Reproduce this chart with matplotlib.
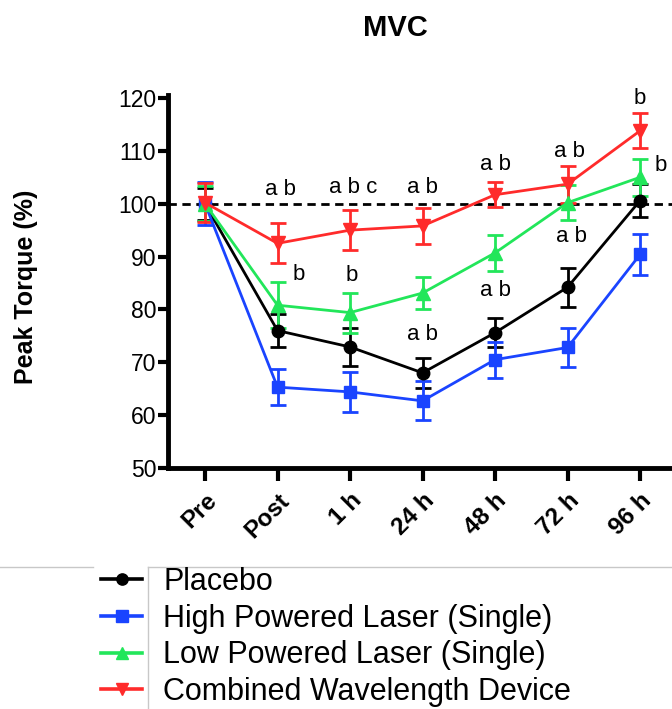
import matplotlib
matplotlib.use("Agg")
import matplotlib.pyplot as plt
from matplotlib.lines import Line2D

plt.rcParams['font.family'] = ['Liberation Sans', 'DejaVu Sans']

# ---- data ----
timepoints = ["Pre", "Post", "1 h", "24 h", "48 h", "72 h", "96 h"]
placebo = [100.0, 76.0, 72.9, 68.0, 75.6, 84.2, 100.6]
placebo_err = [3.0, 3.2, 3.6, 2.8, 2.7, 3.7, 3.1]
high_laser = [100.0, 65.3, 64.4, 62.7, 70.5, 72.8, 90.4]
high_laser_err = [4.1, 3.4, 3.8, 3.7, 3.4, 3.7, 3.9]
low_laser = [100.0, 80.8, 79.4, 83.1, 90.7, 100.2, 105.0]
low_laser_err = [3.3, 4.4, 3.8, 3.1, 3.4, 3.3, 3.5]
combined = [100.2, 92.5, 95.0, 95.8, 101.7, 103.7, 113.8]
combined_err = [3.7, 3.8, 3.8, 3.4, 2.4, 3.5, 3.3]

series_names = ["Placebo", "High Powered Laser (Single)",
                "Low Powered Laser (Single)", "Combined Wavelength Device"]

# significance annotations: (x position, y position, text)
annot_x = [1.04, 2.04, 3.0, 4.0, 5.03, 5.99, 6.29, 1.29, 2.02, 5.05, 4.0, 3.0]
annot_y = [101.7, 102.0, 102.1, 106.4, 108.9, 118.9, 106.2, 85.6, 85.3, 92.7, 82.6, 74.3]
annot_txt = ["a b", "a b c", "a b", "a b", "a b", "b", "b", "b", "b", "a b", "a b", "a b"]

W, H = 672, 709
fig = plt.figure(figsize=(W / 100, H / 100), dpi=100)
ax = fig.add_axes([168 / W, 1 - 468 / H, (W - 168) / W, (468 - 98) / H])

x = list(range(len(timepoints)))
colors = ["#000000", "#1a44ff", "#22e65a", "#ff2b2b"]
markers = ["o", "s", "^", "v"]
msizes = [9, 9, 9.5, 9.5]
data = [placebo, high_laser, low_laser, combined]
errs = [placebo_err, high_laser_err, low_laser_err, combined_err]

ax.axhline(100, color="black", lw=2.0, ls=(0, (3, 2)), zorder=1)

handles = []
for vals, err, c, m, ms, name in zip(data, errs, colors, markers, msizes, series_names):
    ax.errorbar(x, vals, yerr=err, color=c, marker=m, ms=ms, mec=c, mfc=c,
                lw=2.0, elinewidth=2.0, capsize=5.5, capthick=2.0, zorder=3,
                clip_on=False)
    handles.append(Line2D([0], [0], color=c, marker=m, ms=ms * 0.9, lw=2.6, label=name))

for tx, ty, t in zip(annot_x, annot_y, annot_txt):
    ax.text(tx, ty, t, ha="center", va="baseline", fontsize=16, zorder=5)

ax.set_xlim(-0.51, 6.44)
ax.set_ylim(50, 120)
ax.set_yticks([50, 60, 70, 80, 90, 100, 110, 120])
ax.set_xticks(x)
ax.set_xticklabels(timepoints, rotation=45, ha="right", rotation_mode="anchor",
                   fontsize=17.5, fontweight="bold")
for lbl in ax.get_yticklabels():
    lbl.set_fontsize(16.5)

ax.spines["top"].set_visible(False)
ax.spines["right"].set_visible(False)
ax.spines["left"].set_linewidth(3.5)
ax.spines["bottom"].set_linewidth(3.5)
ax.spines["left"].set_bounds(50, 120.6)
ax.tick_params(axis="y", length=7, width=3, pad=1.5)
ax.tick_params(axis="x", length=9, width=3, pad=6)

fig.text(395 / W, 1 - 28 / H, "MVC", ha="center", va="center",
         fontsize=21, fontweight="bold")
fig.text(26 / W, 1 - 287 / H, "Peak Torque (%)", ha="center", va="center",
         rotation=90, fontsize=18, fontweight="bold")

# faint separator lines
gray = "#c8c8c8"
fig.add_artist(Line2D([0, 93 / W], [1 - 567 / H] * 2, color=gray, lw=1))
fig.add_artist(Line2D([148 / W, 1], [1 - 567 / H] * 2, color=gray, lw=1))
fig.add_artist(Line2D([148 / W, 148 / W], [1 - 567 / H, 0], color=gray, lw=1))

leg = fig.legend(handles=handles, loc="upper left",
                 bbox_to_anchor=(101 / W, 1 - 567 / H), frameon=False,
                 fontsize=22, handlelength=1.35, handletextpad=0.68,
                 labelspacing=0.22, borderpad=0, borderaxespad=0)

fig.savefig("out.png", dpi=100)
